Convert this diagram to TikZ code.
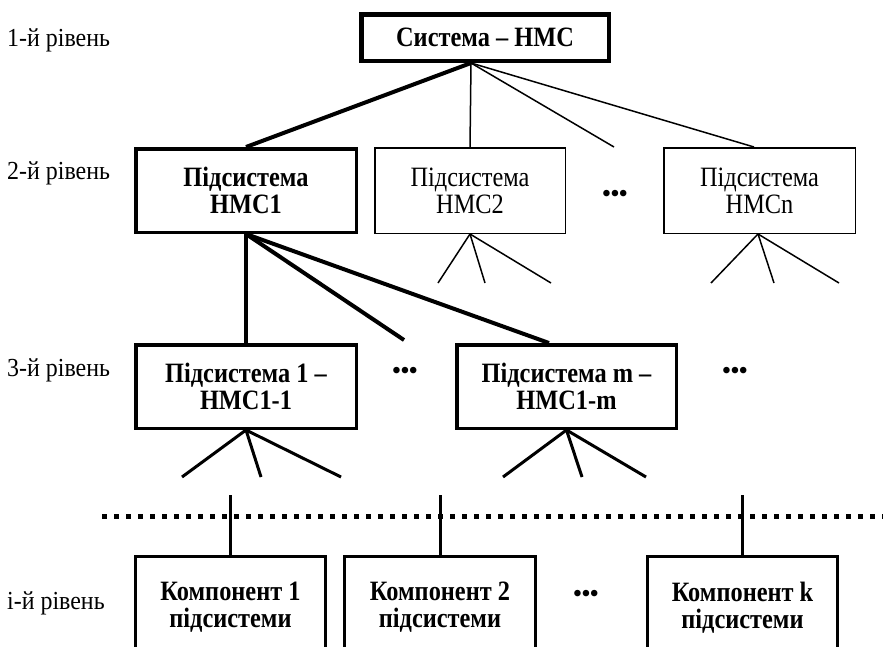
\documentclass[tikz,border=0pt]{standalone}
\usepackage{fontspec}
\setmainfont{Liberation Serif}
\newfontfamily\boxfont[FakeStretch=0.87]{Liberation Serif}
\newfontfamily\lvlfont[FakeStretch=0.92]{Liberation Serif}
\begin{document}
\begin{tikzpicture}[x=1pt,y=-1pt,
  box/.style={draw, rectangle, inner sep=0pt, align=center, font=\boxfont\fontsize{28}{27}\selectfont},
  bbox/.style={box, font=\boxfont\fontsize{28}{27}\selectfont\bfseries},
  lvl/.style={anchor=west, inner sep=0pt, font=\lvlfont\fontsize{26}{27}\selectfont},
  dots/.style={inner sep=0pt, font=\fontsize{24}{27}\selectfont\bfseries},
  thinln/.style={line width=1.5pt},
  medln/.style={line width=3pt},
  thickln/.style={line width=4pt}]
\useasboundingbox (0,0) rectangle (883,646);
\clip (0,0) rectangle (883,646);

% level labels
\node[lvl] (l1) at (7,40) {1-й рівень};
\node[lvl] (l2) at (7,173) {2-й рівень};
\node[lvl] (l3) at (7,370) {3-й рівень};
\node[lvl] (li) at (7,603) {і-й рівень};

% boxes
\node[bbox, line width=4.5pt, minimum width=247.5pt, minimum height=46.5pt] (top) at (485,37.5) {Система – НМС};
\node[bbox, line width=3.5pt, minimum width=220.5pt, minimum height=83.5pt] (s1) at (246,190.5) {Підсистема\\НМС1};
\node[box, line width=1.5pt, minimum width=190.5pt, minimum height=85.5pt] (s2) at (470,190.5) {Підсистема\\НМС2};
\node[box, line width=1.5pt, minimum width=191.5pt, minimum height=85.5pt] (sn) at (759.5,190.5) {Підсистема\\НМСn};
\node[dots] (d2) at (615,196) {•••};

\node[bbox, line width=3.5pt, minimum width=220.5pt, minimum height=83.5pt] (s11) at (246,386.5) {Підсистема 1 –\\НМС1-1};
\node[bbox, line width=3.5pt, minimum width=219.5pt, minimum height=83.5pt] (s1m) at (566.5,386.5) {Підсистема m –\\НМС1-m};
\node[dots] (d3a) at (405,373) {•••};
\node[dots] (d3b) at (735,373) {•••};

\node[bbox, line width=3pt, minimum width=190pt, minimum height=102pt] (c1) at (230.5,607.5) {Компонент 1\\підсистеми};
\node[bbox, line width=3pt, minimum width=191pt, minimum height=102pt] (c2) at (440,607.5) {Компонент 2\\підсистеми};
\node[bbox, line width=3pt, minimum width=190pt, minimum height=102pt] (ck) at (742.5,607.5) {Компонент k\\підсистеми};
\node[dots] (d4) at (586,596) {•••};

% connectors level 1 -> 2
\coordinate (ta) at (471,63);
\coordinate (tdots) at (614,147);
\coordinate (tn) at (754,147);
\draw[thickln] (ta) -- (s1.north);
\draw[thinln] (ta) -- (s2.north);
\draw[thinln] (ta) -- (tdots);
\draw[thinln] (ta) -- (tn);

% connectors level 2 -> 3
\coordinate (s1dots) at (404,340);
\coordinate (s1mtop) at (549,343);
\draw[thickln] (s1.south) -- (s11.north);
\draw[thickln] (s1.south) -- (s1dots);
\draw[thickln] (s1.south) -- (s1mtop);

% fans under level 2
\coordinate (s2a) at (438,283);
\coordinate (s2b) at (485,283);
\coordinate (s2c) at (551,283);
\draw[thinln] (s2.south) -- (s2a);
\draw[thinln] (s2.south) -- (s2b);
\draw[thinln] (s2.south) -- (s2c);
\coordinate (snap) at (758,234);
\coordinate (sna) at (711,283);
\coordinate (snb) at (774,283);
\coordinate (snc) at (839,283);
\draw[thinln] (snap) -- (sna);
\draw[thinln] (snap) -- (snb);
\draw[thinln] (snap) -- (snc);

% fans under level 3
\coordinate (f1a) at (182,477);
\coordinate (f1b) at (261,477);
\coordinate (f1c) at (341,477);
\draw[medln] (s11.south) -- (f1a);
\draw[medln] (s11.south) -- (f1b);
\draw[medln] (s11.south) -- (f1c);
\coordinate (fma) at (503,477);
\coordinate (fmb) at (582,477);
\coordinate (fmc) at (646,477);
\draw[medln] (s1m.south) -- (fma);
\draw[medln] (s1m.south) -- (fmb);
\draw[medln] (s1m.south) -- (fmc);

% dotted separator
\coordinate (sepL) at (102,516);
\coordinate (sepR) at (883,516);
\draw[line width=5pt, dash pattern=on 5pt off 7pt] (sepL) -- (sepR);

% stubs to components
\coordinate (st1) at (230.5,495);
\coordinate (st2) at (440,495);
\coordinate (stk) at (742.5,495);
\draw[medln] (st1) -- (c1.north);
\draw[medln] (st2) -- (c2.north);
\draw[medln] (stk) -- (ck.north);
\end{tikzpicture}
\end{document}
